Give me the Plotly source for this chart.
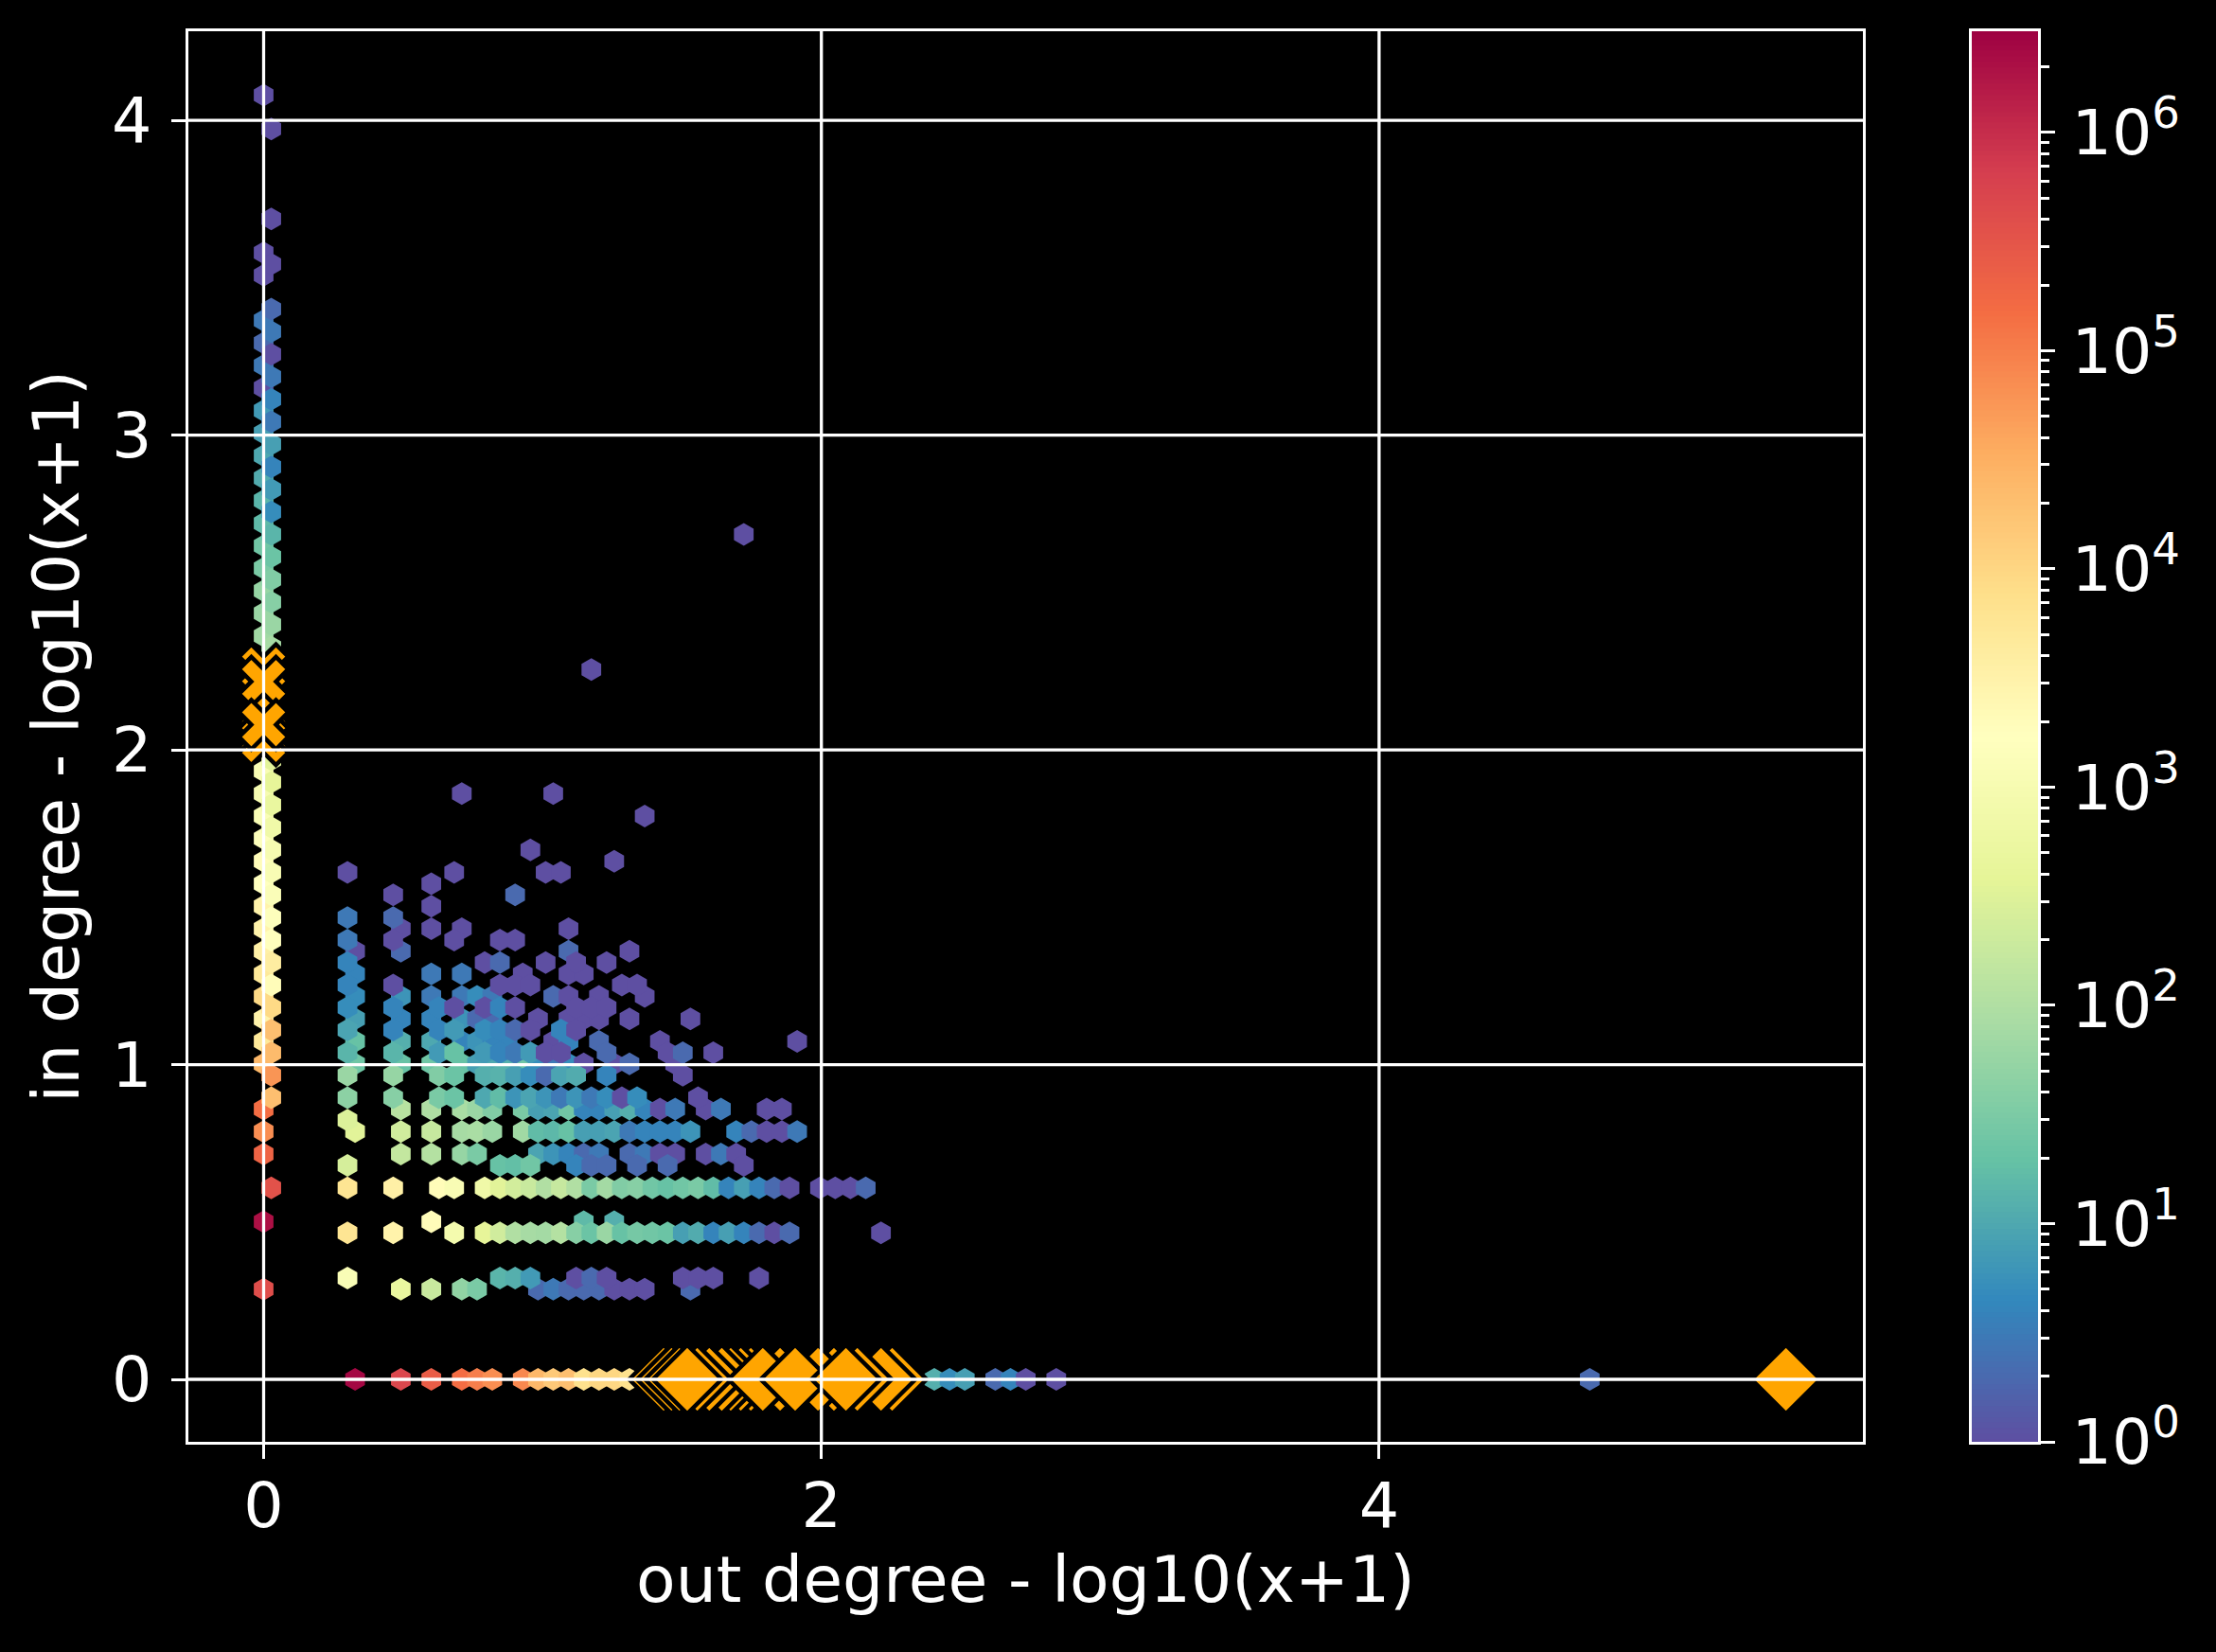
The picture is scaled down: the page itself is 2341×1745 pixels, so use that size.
import numpy as np
import plotly.graph_objects as go

# hexbin lattice steps (half cell)
X_STEP = 0.02733
Y_STEP = 0.03579

# one entry per hexbin row: row index, then columns and counts of its cells
rows = [114, 111, 103, 100, 99, 98, 95, 94, 93, 92, 91, 90, 89, 88, 87, 86, 85, 84, 83, 82, 81, 80, 79, 78, 77, 76,
        75, 74, 73, 72, 71, 70, 69, 68, 67, 66, 65, 63, 55, 54, 53, 52, 51, 50, 49, 48, 47, 46, 45, 44, 43, 42, 41,
        40, 39, 38, 37, 36, 35, 34, 33, 32, 31, 30, 29, 28, 27, 25, 24, 23, 22, 20, 19, 17, 14, 13, 9, 8, 0]
row_cols = [
    [0], [1], [1], [0], [1], [0], [1], [0], [1], [0], [1], [0], [1], [0], [1], [0], [1], [0], [1], [0], [1], [0],
    [1], [0], [1], [0],
    [1, 63], [0], [1], [0], [1], [0], [1], [0], [1], [0], [1], [43], [1], [0], [1],
    [0, 26, 38], [1], [0, 50], [1], [0], [1, 35], [0, 46], [1, 11, 25, 37, 39], [0, 22], [1, 17, 33], [0, 22],
    [1, 11, 17],
    [0, 18, 22, 26, 40],
    [1, 11, 17, 25, 31, 33],
    [0, 12, 18, 40, 48],
    [1, 11, 29, 31, 37, 41, 45],
    [0, 12, 22, 26, 34, 40, 42],
    [1, 11, 17, 31, 33, 35, 47, 49],
    [0, 12, 18, 22, 26, 28, 30, 38, 40, 44, 50],
    [1, 11, 17, 23, 25, 29, 31, 33, 41, 43, 45],
    [0, 12, 18, 22, 26, 28, 30, 36, 40, 42, 44, 48, 56],
    [1, 11, 17, 23, 25, 29, 31, 33, 35, 39, 41],
    [0, 12, 18, 22, 26, 28, 30, 32, 38, 40, 44, 52, 70],
    [1, 11, 17, 23, 25, 29, 31, 33, 35, 37, 39, 45, 53, 55, 59],
    [0, 12, 18, 22, 26, 28, 30, 32, 34, 36, 38, 40, 42, 46, 48, 54],
    [1, 11, 17, 23, 25, 29, 31, 33, 35, 37, 39, 41, 45, 55],
    [1, 11, 17, 23, 25, 29, 31, 33, 35, 37, 39, 41, 43, 45, 47, 49, 57],
    [0, 18, 22, 26, 28, 30, 34, 36, 38, 40, 42, 44, 46, 48, 50, 52, 54, 58, 60, 66, 68],
    [11],
    [0, 12, 18, 22, 26, 28, 30, 34, 36, 38, 40, 42, 44, 46, 48, 50, 52, 54, 56, 62, 64, 66, 68, 70],
    [0, 18, 22, 26, 28, 36, 38, 40, 42, 44, 48, 50, 52, 54, 58, 60, 62],
    [11, 31, 33, 35, 41, 43, 45, 49, 53, 63],
    [1, 11, 17, 23, 25, 29, 31, 33, 35, 37, 39, 41, 43, 45, 47, 49, 51, 53, 55, 57, 59, 61, 63, 65, 67, 69, 73, 75,
     77, 79],
    [0, 22, 42, 46],
    [11, 17, 25, 29, 31, 33, 35, 37, 39, 41, 43, 45, 47, 49, 51, 53, 55, 57, 59, 61, 63, 65, 67, 69, 81],
    [11, 31, 33, 35, 41, 43, 45, 55, 57, 59, 65],
    [0, 18, 22, 26, 28, 36, 38, 40, 42, 44, 46, 48, 50, 56],
    [12, 18, 22, 26, 28, 30, 34, 36, 38, 40, 42, 44, 46, 48, 88, 90, 92, 96, 98, 100, 104, 174],
]
row_counts = [
    [1], [1], [1], [1], [1], [1], [2], [3], [3], [2], [1], [3], [3], [1], [4], [7], [3], [8], [8], [10], [4], [11],
    [7], [14], [5], [16],
    [14, 1], [25], [22], [30], [35], [55], [40], [60], [60], [70], [80], [1], [350], [1100], [400],
    [1000, 1, 1], [500], [1200, 1], [700], [1500], [1000, 1], [2000, 1], [1100, 1, 1, 1, 1], [1700, 1],
    [1300, 1, 2], [3000, 1],
    [1500, 3, 2],
    [3000, 1, 1, 1, 1],
    [1800, 3, 1, 1, 1, 1],
    [3500, 1, 2, 2, 1],
    [4000, 4, 1, 2, 1, 1, 1],
    [5000, 4, 3, 3, 1, 1, 1],
    [2000, 4, 1, 1, 1, 1, 1, 1],
    [9000, 5, 6, 3, 3, 5, 3, 2, 1, 1, 1],
    [9000, 5, 4, 4, 1, 1, 4, 1, 1, 1, 1],
    [3000, 8, 4, 4, 6, 2, 2, 1, 1, 1, 1, 1, 1],
    [20000, 9, 4, 4, 7, 5, 4, 2, 1, 4, 1],
    [5000, 20, 12, 10, 4, 6, 4, 4, 1, 4, 2, 1, 1],
    [23000, 14, 14, 7, 20, 7, 4, 3, 7, 1, 1, 2, 1, 2, 1],
    [25000, 24, 20, 24, 20, 8, 10, 12, 25, 5, 3, 5, 1, 1, 2, 1],
    [60000, 60, 55, 35, 22, 12, 13, 8, 5, 2, 9, 11, 4, 1],
    [20000, 45, 40, 30, 22, 10, 17, 6, 9, 6, 3, 6, 3, 5, 1, 5, 1],
    [150000, 120, 95, 85, 60, 35, 30, 8, 9, 25, 4, 4, 8, 12, 4, 1, 3, 1, 3, 1, 1],
    [300],
    [70000, 350, 220, 170, 80, 85, 60, 70, 17, 15, 20, 8, 8, 9, 3, 4, 4, 4, 6, 4, 2, 1, 1, 3],
    [200000, 160, 110, 55, 30, 9, 6, 4, 2, 3, 2, 3, 1, 1, 1, 3, 1],
    [250, 20, 18, 25, 4, 2, 2, 2, 2, 1],
    [350000, 6000, 3500, 2000, 1100, 700, 350, 230, 180, 100, 170, 100, 30, 75, 35, 40, 25, 20, 25, 30, 17, 4, 8, 4,
     2, 1, 1, 1, 1, 2],
    [2000000, 2000, 16, 12],
    [6000, 3000, 900, 400, 220, 100, 80, 75, 110, 40, 22, 60, 20, 28, 25, 22, 8, 11, 4, 8, 4, 2, 1, 2, 1],
    [1200, 14, 12, 7, 1, 2, 1, 1, 1, 1, 1],
    [400000, 500, 180, 50, 30, 2, 3, 2, 2, 2, 1, 1, 1, 2],
    [2500000, 500000, 250000, 150000, 100000, 70000, 80000, 25000, 15000, 20000, 7000, 10000, 10000, 7000, 12, 5, 8,
     2, 4, 1, 1, 2],
]

# highlighted nodes, listed bottom to top in drawing order
diamond_x = [2.254, 2.214, 2.129, 2.045, 1.988, 1.852, 1.747, 1.711, 1.675, 1.643, 1.598, 1.555,
             1.4345, 1.4627, 1.491, 1.519, 1.790, 1.906, 2.088, 5.459]
cross_y = [2.257, 2.127, 2.05, 2.03, 2.217, 2.08]

x_ticks = [0, 2, 4]
y_ticks = [0, 1, 2, 3, 4]
bar_ticks = [1, 10, 100, 1000, 10000, 100000, 1000000]
bar_labels = ["10<sup>%d</sup>" % i for i in range(7)]
COUNT_MAX = 2.91e6

# flatten, lower lattice first like hexbin draws it
col = np.array([c for cs in row_cols for c in cs])
row = np.array([r for r, cs in zip(rows, row_cols) for c in cs])
count = np.array([n for ns in row_counts for n in ns])
order = np.lexsort((row, col, col % 2))

fig = go.Figure()

fig.add_trace(go.Scatter(
    x=col[order] * X_STEP,
    y=row[order] * Y_STEP,
    mode="markers",
    marker=dict(
        symbol="hexagon",
        size=24,
        color=np.log10(count[order]),
        colorscale="Spectral_r",
        cmin=0,
        cmax=np.log10(COUNT_MAX),
        line=dict(width=0),
    ),
    showlegend=False,
))

fig.add_trace(go.Scatter(
    x=[0] * len(cross_y),
    y=cross_y,
    mode="markers",
    marker=dict(symbol="x", size=46, color="orange", line=dict(color="black", width=4.5)),
    showlegend=False,
))

fig.add_trace(go.Scatter(
    x=diamond_x,
    y=[0] * len(diamond_x),
    mode="markers",
    marker=dict(symbol="diamond", size=56, color="orange", line=dict(color="black", width=4.5)),
    showlegend=False,
))

# colour bar as its own log axis, plotly's colorbar has no minor ticks
bar_levels = np.linspace(0, np.log10(COUNT_MAX), 256)
fig.add_trace(go.Heatmap(
    x=[0, 1],
    y=10 ** bar_levels,
    z=np.column_stack([bar_levels, bar_levels]),
    colorscale="Spectral_r",
    zmin=0,
    zmax=np.log10(COUNT_MAX),
    showscale=False,
    xaxis="x2",
    yaxis="y2",
))

# grid goes on top of the markers
for v in x_ticks:
    fig.add_shape(type="line", x0=v, x1=v, y0=0, y1=1, xref="x", yref="y domain",
                  line=dict(color="white", width=3.3), layer="above")
for v in y_ticks:
    fig.add_shape(type="line", y0=v, y1=v, x0=0, x1=1, yref="y", xref="x domain",
                  line=dict(color="white", width=3.3), layer="above")

tick_font = dict(family="DejaVu Sans", size=66.7, color="white")
title_font = dict(family="DejaVu Sans", size=68, color="white")
axis_style = dict(
    automargin=False,
    showgrid=False,
    zeroline=False,
    showline=True,
    mirror=True,
    linecolor="white",
    linewidth=3.3,
    ticks="outside",
    ticklen=15,
    tickwidth=3.3,
    tickcolor="white",
    tickfont=tick_font,
)

fig.update_layout(
    width=2341,
    height=1745,
    margin=dict(l=0, r=0, t=0, b=0),
    paper_bgcolor="black",
    plot_bgcolor="black",
    xaxis=dict(
        domain=[199 / 2341, 1968 / 2341],
        range=[-0.2699, 5.735],
        tickmode="array",
        tickvals=x_ticks,
        ticklabelstandoff=-8,
        title=dict(text="out degree - log10(x+1)", font=title_font, standoff=15),
        **axis_style,
    ),
    yaxis=dict(
        domain=[1 - 1523 / 1745, 1 - 33 / 1745],
        range=[-0.1985, 4.283],
        tickmode="array",
        tickvals=y_ticks,
        ticklabelstandoff=7,
        title=dict(text="in degree - log10(x+1)", font=title_font, standoff=13),
        **axis_style,
    ),
    xaxis2=dict(
        domain=[2083 / 2341, 2153 / 2341],
        range=[0, 1],
        anchor="y2",
        automargin=False,
        showticklabels=False,
        showgrid=False,
        zeroline=False,
        showline=True,
        mirror=True,
        linecolor="white",
        linewidth=3.3,
        ticks="",
    ),
    yaxis2=dict(
        domain=[1 - 1523 / 1745, 1 - 33 / 1745],
        type="log",
        range=[0, np.log10(COUNT_MAX)],
        anchor="x2",
        side="right",
        tickmode="array",
        tickvals=bar_ticks,
        ticktext=bar_labels,
        ticklabelstandoff=4,
        minor=dict(
            ticks="outside",
            ticklen=9,
            tickwidth=3.3,
            tickcolor="white",
            tickmode="array",
            tickvals=[m * b for b in bar_ticks for m in range(2, 10)],
        ),
        **axis_style,
    ),
)

fig.write_html(
    "out.html",
    config={"displayModeBar": False},
    post_script="document.body.style.margin='0';document.body.style.background='black';",
)
